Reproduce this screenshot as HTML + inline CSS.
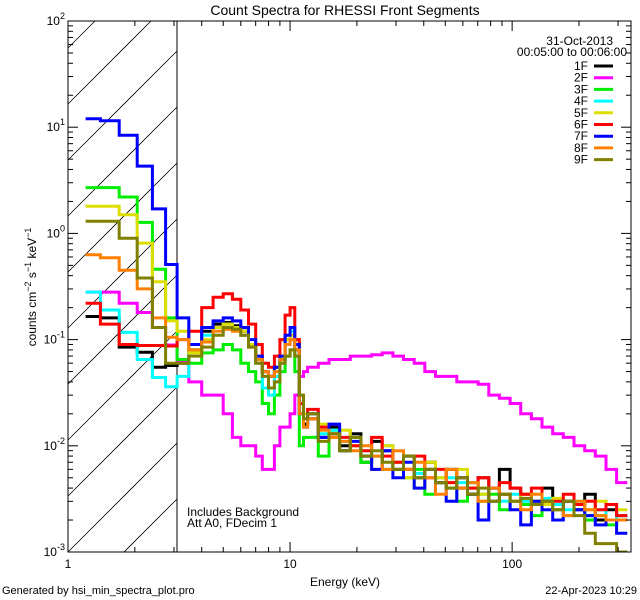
<!DOCTYPE html>
<html><head><meta charset="utf-8"><style>
html,body{margin:0;padding:0;background:#fff;overflow:hidden;width:640px;height:600px;}
svg{display:block;}
svg text{font-family:"Liberation Sans",sans-serif;font-size:12px;fill:#000;}
</style></head><body>
<svg id="chart" width="640" height="600" xmlns="http://www.w3.org/2000/svg">
<defs>
<clipPath id="plotclip"><rect x="68" y="21" width="563" height="531"/></clipPath>
</defs>
<rect width="640" height="600" fill="#fff"/>
<text x="345" y="15" text-anchor="middle" style="font-size:14px">Count Spectra for RHESSI Front Segments</text>
<g id="hatch"></g>
<line x1="177" y1="21" x2="177" y2="552" stroke="#000" stroke-width="1"/>
<g id="series" clip-path="url(#plotclip)"></g>
<rect x="68" y="21" width="563" height="531" fill="none" stroke="#000" stroke-width="1"/>
<g id="axes"></g>
<text transform="translate(36,287) rotate(-90)" text-anchor="middle">counts cm<tspan dy="-5" style="font-size:9px">−2</tspan><tspan dy="5"> s</tspan><tspan dy="-5" style="font-size:9px">−1</tspan><tspan dy="5"> keV</tspan><tspan dy="-5" style="font-size:9px">−1</tspan></text>
<text x="345" y="586" text-anchor="middle">Energy (keV)</text>
<text x="613" y="45" text-anchor="end">31-Oct-2013</text>
<text x="627" y="56" text-anchor="end">00:05:00 to 00:06:00</text>
<g id="legend"></g>
<text x="187" y="516">Includes Background</text>
<text x="187" y="527">Att A0, FDecim 1</text>
<text x="2" y="594" style="font-size:11px">Generated by hsi_min_spectra_plot.pro</text>
<text x="637" y="594" text-anchor="end" style="font-size:11px">22-Apr-2023 10:29</text>
</svg>
<script>
const NS="http://www.w3.org/2000/svg";
// energy bin edges (keV)
const lowEdges=[1.2,1.4,1.7,2.05,2.4,2.75,3.1];
const midEdges=[3.1,3.5,4,4.5,5,5.5,6,6.5,7,7.5,8,8.5,9,9.5,10,10.5,11,11.5,12];
const seriesNames=["1F","2F","3F","4F","5F","6F","7F","8F","9F"];
const seriesColors=["#000000","#ff00ff","#00ee00","#00ffff","#dddd00","#ff0000","#0000ff","#ff8000","#808000"];
const low1F=[.165,.16,.085,.076,.055,.057];
const low2F=[.28,.28,.22,.18,.13,.089];
const low3F=[2.7,2.7,2.2,1.27,.46,.16];
const low4F=[.28,.19,.117,.065,.044,.036];
const low5F=[1.8,1.8,1.5,.81,.35,.15];
const low6F=[.22,.14,.09,.088,.088,.087];
const low7F=[12,11.5,8.4,4.3,1.7,.51];
const low8F=[.63,.59,.45,.3,.16,.105];
const low9F=[1.3,1.3,.9,.38,.13,.06];
const mid1F=[.06,.08,.12,.14,.145,.135,.12,.09,.065,.05,.045,.055,.065,.1,.1,.08,.02,.016];
const mid2F=[.061,.04,.03,.03,.02,.012,.01,.01,.008,.006,.006,.01,.015,.015,.02,.03,.045,.05];
const mid3F=[.065,.06,.075,.08,.09,.08,.06,.05,.04,.025,.02,.03,.05,.07,.08,.05,.01,.012];
const mid4F=[.045,.08,.11,.13,.14,.13,.11,.09,.06,.035,.03,.045,.06,.1,.12,.07,.02,.015];
const mid5F=[.12,.075,.10,.13,.14,.13,.12,.09,.07,.05,.045,.055,.07,.1,.11,.1,.03,.02];
const mid6F=[.10,.12,.2,.25,.27,.24,.19,.14,.09,.06,.055,.07,.1,.17,.2,.1,.025,.018];
const mid7F=[.16,.09,.13,.15,.16,.15,.13,.10,.07,.05,.045,.055,.07,.11,.13,.09,.02,.015];
const mid8F=[.1,.08,.095,.12,.125,.12,.11,.085,.065,.05,.045,.05,.065,.09,.1,.08,.02,.015];
const mid9F=[.06,.07,.085,.11,.13,.125,.11,.085,.06,.045,.035,.04,.06,.07,.08,.07,.03,.018];
const high1F=[.018,.012,.015,.010,.013,.007,.011,.009,.006,.008,.005,.007,.0045,.006,.004,.0035,.005,.003,.006,.004,.0035,.003,.004,.0028,.003,.0025,.0035,.002,.0025,.0022];
const high2F=[.055,.06,.065,.065,.07,.07,.072,.075,.07,.065,.06,.05,.045,.045,.04,.04,.038,.03,.028,.025,.02,.018,.015,.013,.012,.01,.009,.008,.006,.0045];
const high3F=[.012,.008,.014,.009,.012,.007,.008,.006,.007,.005,.006,.0035,.005,.004,.003,.0045,.003,.0035,.0025,.003,.0028,.0022,.003,.0025,.0022,.0028,.002,.0022,.0018,.002];
const high4F=[.02,.013,.014,.011,.01,.009,.008,.01,.007,.006,.0055,.006,.0045,.005,.0045,.004,.0035,.004,.003,.0035,.003,.0028,.0032,.0028,.0025,.003,.0022,.0025,.002,.0022];
const high5F=[.02,.016,.012,.014,.01,.008,.006,.01,.007,.005,.004,.007,.005,.0045,.006,.004,.0035,.004,.0035,.003,.0035,.003,.0028,.0032,.003,.0028,.0025,.003,.0028,.0025];
const high6F=[.022,.015,.013,.012,.01,.009,.012,.008,.007,.006,.008,.005,.006,.0045,.005,.004,.005,.004,.0045,.004,.0035,.004,.003,.003,.0035,.0028,.003,.0025,.0028,.0022];
const high7F=[.02,.012,.016,.009,.011,.008,.006,.009,.005,.007,.004,.006,.0045,.003,.005,.0035,.002,.004,.0035,.0025,.0018,.003,.0025,.002,.003,.0025,.0022,.0018,.002,.0015];
const high8F=[.018,.014,.012,.011,.009,.01,.008,.006,.009,.006,.007,.005,.0035,.006,.004,.0045,.003,.004,.0035,.003,.0025,.0035,.003,.0025,.0022,.003,.0025,.0022,.002,.002];
const high9F=[.02,.011,.013,.009,.012,.008,.009,.007,.006,.008,.005,.006,.0045,.004,.005,.0035,.004,.003,.0035,.003,.0032,.0028,.003,.0025,.003,.0022,.0015,.0012,.0012,.001];
const lowSets=[low1F,low2F,low3F,low4F,low5F,low6F,low7F,low8F,low9F];
const midSets=[mid1F,mid2F,mid3F,mid4F,mid5F,mid6F,mid7F,mid8F,mid9F];
const highSets=[high1F,high2F,high3F,high4F,high5F,high6F,high7F,high8F,high9F];
const xTickLabels=["1","10","100"];
const xTickValues=[1,10,100];
const yTickExps=[-3,-2,-1,0,1,2];

const X0=68,X1=631,Y0=21,Y1=552;
const xMinL=0,xMaxL=Math.log10(343);
const yMinL=-3,yMaxL=2;
function xs(e){return X0+(Math.log10(e)-xMinL)/(xMaxL-xMinL)*(X1-X0);}
function ys(v){return Y1-(Math.log10(v)-yMinL)/(yMaxL-yMinL)*(Y1-Y0);}

const highEdges=[];
for(let i=0;i<=30;i++)highEdges.push(12*Math.pow(330/12,i/30));

function mk(tag,attrs,parent){const el=document.createElementNS(NS,tag);for(const k in attrs)el.setAttribute(k,attrs[k]);parent.appendChild(el);return el;}

// hatch lines (slope -1 in screen coords), clipped manually to x 68..177, y 21..552
const hatch=document.getElementById('hatch');
const HX0=68,HX1=177;
for(let k=-2;k<12;k++){
  const c=552-k*56+HX0; // line: x + y = c
  let xa=Math.max(HX0,c-552), xb=Math.min(HX1,c-21);
  if(xb<=xa)continue;
  const ln=mk('line',{x1:xa,y1:c-xa,x2:xb,y2:c-xb,stroke:'#000','stroke-width':0.8},hatch);
  
  
}

const sg=document.getElementById('series');
function stepPath(edges,vals){
  let d='';
  for(let i=0;i<vals.length;i++){
    const xa=xs(edges[i]),xb=Math.min(xs(edges[i+1]),X1),y=ys(vals[i]);
    d+=(i===0?'M':'L')+xa.toFixed(1)+','+y.toFixed(1)+'L'+xb.toFixed(1)+','+y.toFixed(1);
  }
  return d;
}
for(let s=0;s<9;s++){
  const edges=lowEdges.concat(midEdges.slice(1),highEdges.slice(1));
  const vals=lowSets[s].concat(midSets[s],highSets[s]);
  const p=mk('path',{d:stepPath(edges,vals),fill:'none',stroke:seriesColors[s],'stroke-width':3},sg);
  
  
}

const ax=document.getElementById('axes');
function tick(x1,y1,x2,y2){mk('line',{x1,y1,x2,y2,stroke:'#000','stroke-width':1},ax);}
for(let dec=0;dec<=2;dec++){
  for(let m=1;m<=9;m++){
    const e=m*Math.pow(10,dec);
    if(e>343)continue;
    const x=xs(e),len=(m===1)?10:5;
    tick(x,Y1,x,Y1-len);tick(x,Y0,x,Y0+len);
  }
}
xTickValues.forEach((v,i)=>{
  const t=mk('text',{x:xs(v),y:Y1+16,'text-anchor':'middle'},ax);
  t.textContent=xTickLabels[i];
  
  
});
for(let e=-3;e<=2;e++){
  for(let m=1;m<=9;m++){
    if(e===2&&m>1)continue;
    const v=m*Math.pow(10,e),y=ys(v),len=(m===1)?10:5;
    tick(X0,y,X0+len,y);tick(X1,y,X1-len,y);
  }
}
yTickExps.forEach(e=>{
  const t=mk('text',{x:X0-3,y:ys(Math.pow(10,e))+4,'text-anchor':'end'},ax);
  t.innerHTML='10<tspan dy="-6" style="font-size:9px">'+e+'</tspan>';
  
  
});

const lg=document.getElementById('legend');
seriesNames.forEach((n,i)=>{
  const y=66+i*11.7;
  const g=mk('g',{},lg);
  
  
  const t=mk('text',{x:588,y:y+4,'text-anchor':'end'},g);
  t.textContent=n;
  mk('line',{x1:594,y1:y,x2:613,y2:y,stroke:seriesColors[i],'stroke-width':3},g);
});
</script>
</body></html>
